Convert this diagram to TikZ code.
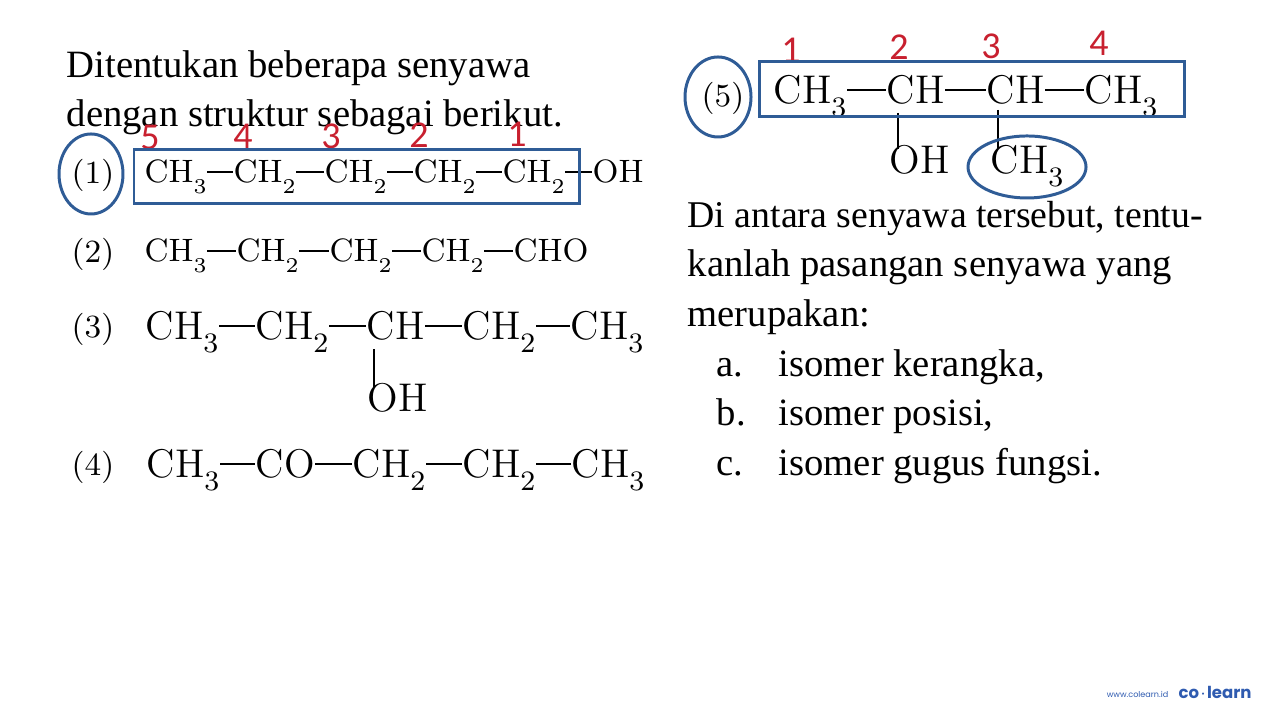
\documentclass[tikz,border=0pt]{standalone}
\usepackage{fontspec}
\newfontfamily\bodyfont{Liberation Serif}
\newfontfamily\numfont{Carlito}
\newfontfamily\logofont{Poppins}
\definecolor{markblue}{HTML}{2F5C96}
\definecolor{markred}{HTML}{C8202F}
\definecolor{logoblue}{HTML}{2F5BB0}
\newcommand{\lsub}[1]{\raisebox{-.75ex}{$\scriptstyle #1$}}
\tikzset{
line/.style={anchor=base west,inner sep=0pt,font=\bodyfont\fontsize{11}{12}\selectfont},
molsmall/.style={anchor=west,inner sep=0pt,text height=.22cm,text depth=0pt,font=\fontsize{9.2}{11}\selectfont},
molbig/.style={anchor=west,inner sep=0pt,text height=.27cm,text depth=0pt,font=\fontsize{11.4}{13}\selectfont},
bond/.style={line width=.4pt},
num/.style={inner sep=0pt,text=markred,font=\numfont\fontsize{10.8}{12}\selectfont},
ring/.style={draw=markblue,line width=.85pt}
}
\begin{document}
\begin{tikzpicture}
\useasboundingbox (0,0) rectangle (12.8,7.2);
\node[line] (t1) at (.66,6.42) {Ditentukan beberapa senyawa};
\node[line] (t2) at (.66,5.93) {dengan struktur sebagai berikut.};
\node[line,font=\bodyfont\fontsize{10.75}{12}\selectfont] (t3) at (6.87,4.92) {Di antara senyawa tersebut, tentu-};
\node[line] (t4) at (6.87,4.43) {kanlah pasangan senyawa yang};
\node[line] (t5) at (6.87,3.93) {merupakan:};
\node[line] (a) at (7.16,3.43) {a.};
\node[line] (a1) at (7.78,3.43) {isomer kerangka,};
\node[line] (b) at (7.16,2.94) {b.};
\node[line] (b1) at (7.78,2.94) {isomer posisi,};
\node[line] (c) at (7.16,2.44) {c.};
\node[line] (c1) at (7.78,2.44) {isomer gugus fungsi.};
% (1)
\node[molsmall] (n1) at (.71,5.47) {(1)};
\node[molsmall] (p1) at (1.44,5.48) {CH\lsub{3}};
\node[molsmall] (p2) at (2.33,5.48) {CH\lsub{2}};
\node[molsmall] (p3) at (3.24,5.48) {CH\lsub{2}};
\node[molsmall] (p4) at (4.13,5.48) {CH\lsub{2}};
\node[molsmall] (p5) at (5.02,5.48) {CH\lsub{2}};
\node[molsmall] (p6) at (5.92,5.48) {OH};
\draw[bond] (p1)--(p2) (p2)--(p3) (p3)--(p4) (p4)--(p5) (p5)--(p6);
% (2)
\node[molsmall] (n2) at (.71,4.68) {(2)};
\node[molsmall] (q1) at (1.44,4.69) {CH\lsub{3}};
\node[molsmall] (q2) at (2.36,4.69) {CH\lsub{2}};
\node[molsmall] (q3) at (3.29,4.69) {CH\lsub{2}};
\node[molsmall] (q4) at (4.21,4.69) {CH\lsub{2}};
\node[molsmall] (q5) at (5.13,4.69) {CHO};
\draw[bond] (q1)--(q2) (q2)--(q3) (q3)--(q4) (q4)--(q5);
% (3)
\node[molsmall] (n3) at (.71,3.93) {(3)};
\node[molbig] (r1) at (1.45,3.94) {CH\lsub{3}};
\node[molbig] (r2) at (2.55,3.94) {CH\lsub{2}};
\node[molbig] (r3) at (3.66,3.94) {CH};
\node[molbig] (r4) at (4.62,3.94) {CH\lsub{2}};
\node[molbig] (r5) at (5.70,3.94) {CH\lsub{3}};
\node[molbig] (r6) at (3.67,3.22) {OH};
\draw[bond] (r1)--(r2) (r2)--(r3) (r3)--(r4) (r4)--(r5);
\draw[bond,shorten >=-1pt] (r3.south west)++(.08,-.09) coordinate (r7) -- (r7|-r6.north);
% (4)
\node[molsmall] (n4) at (.71,2.55) {(4)};
\node[molbig] (s1) at (1.46,2.56) {CH\lsub{3}};
\node[molbig] (s2) at (2.55,2.56) {CO};
\node[molbig] (s3) at (3.52,2.56) {CH\lsub{2}};
\node[molbig] (s4) at (4.62,2.56) {CH\lsub{2}};
\node[molbig] (s5) at (5.71,2.56) {CH\lsub{3}};
\draw[bond] (s1)--(s2) (s2)--(s3) (s3)--(s4) (s4)--(s5);
% (5)
\node[molsmall] (n5) at (7.01,6.24) {(5)};
\node[molbig] (u1) at (7.73,6.30) {CH\lsub{3}};
\node[molbig] (u2) at (8.86,6.30) {CH};
\node[molbig] (u3) at (9.86,6.30) {CH};
\node[molbig] (u4) at (10.84,6.30) {CH\lsub{3}};
\node[molbig] (u5) at (8.89,5.60) {OH};
\node[molbig] (u6) at (9.90,5.60) {CH\lsub{3}};
\draw[bond] (u1)--(u2) (u2)--(u3) (u3)--(u4);
\draw[bond,shorten >=-1pt] (8.98,6.07) coordinate (u7) -- (u7|-u5.north);
\draw[bond,shorten >=-1pt] (9.98,6.10) coordinate (u8) -- (u8|-u6.north);
% numbers
\node[num] (k5) at (1.50,5.83) {5};
\node[num] (k4) at (2.43,5.84) {4};
\node[num] (k3) at (3.31,5.84) {3};
\node[num] (k2) at (4.19,5.85) {2};
\node[num] (k1) at (5.17,5.86) {1};
\node[num] (h1) at (7.91,6.70) {1};
\node[num] (h2) at (8.99,6.73) {2};
\node[num] (h3) at (9.91,6.74) {3};
\node[num] (h4) at (10.99,6.77) {4};
% rings and boxes
\draw[ring] (.91,5.46) ellipse[x radius=.32,y radius=.40];
\draw[ring] (1.34,5.16) rectangle (5.79,5.70);
\draw[ring] (7.18,6.23) ellipse[x radius=.33,y radius=.40];
\draw[ring] (7.59,6.03) rectangle (11.84,6.58);
\draw[ring] (10.27,5.53) ellipse[x radius=.59,y radius=.31];
% logo
\node[inner sep=0pt,text=logoblue,font=\logofont\fontsize{2.3}{3}\selectfont] (w) at (11.375,.26) {www.colearn.id};
\node[inner sep=0pt,text=logoblue,font=\logofont\bfseries\fontsize{4.7}{6}\selectfont] (l) at (12.15,.28) {co$\cdot$learn};
\end{tikzpicture}
\end{document}
